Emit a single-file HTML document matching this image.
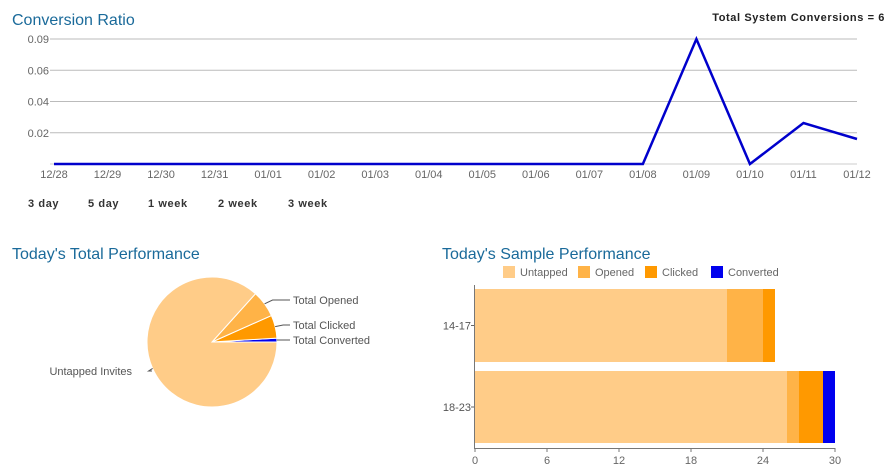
<!DOCTYPE html>
<html><head><meta charset="utf-8"><style>
body{margin:0;background:#fff;width:896px;height:469px;overflow:hidden;font-family:"Liberation Sans",sans-serif}
svg text{font-family:"Liberation Sans",sans-serif}
</style></head><body>
<svg id="s" width="896" height="469" viewBox="0 0 896 469">
<text x="12" y="25" font-size="16" fill="#1a6a9a">Conversion Ratio</text>
<text x="885" y="21" font-size="11" font-weight="bold" fill="#222" text-anchor="end" letter-spacing="0.6">Total System Conversions = 6</text>
<g font-size="11" font-weight="bold" fill="#333" letter-spacing="0.6">
<text x="28" y="207">3 day</text>
<text x="88" y="207">5 day</text>
<text x="148" y="207">1 week</text>
<text x="218" y="207">2 week</text>
<text x="288" y="207">3 week</text>
</g>
<text x="12" y="259" font-size="16" fill="#1a6a9a">Today's Total Performance</text>
<text x="442" y="259" font-size="16" fill="#1a6a9a">Today's Sample Performance</text>
<g id="line"></g>
<g id="pie"></g>
<g id="bar"></g>
</svg>
<script>
const dates=["12/28","12/29","12/30","12/31","01/01","01/02","01/03","01/04","01/05","01/06","01/07","01/08","01/09","01/10","01/11","01/12"];
const ratios=[0,0,0,0,0,0,0,0,0,0,0,0,0.09,0,0.0295,0.018];
const yTickVals=[0.0225,0.045,0.0675,0.09];
const yTickLabels=["0.02","0.04","0.06","0.09"];
const pieLabels=["Untapped Invites","Total Opened","Total Clicked","Total Converted"];
const pieValues=[91,7,6,1];
const barCats=["14-17","18-23"];
const barSeries=["Untapped","Opened","Clicked","Converted"];
const untapped=[21,26];
const opened=[3,1];
const clicked=[1,2];
const converted=[0,1];
const xTicks=[0,6,12,18,24,30];

const NS="http://www.w3.org/2000/svg";
function mk(p,t,a){const e=document.createElementNS(NS,t);for(const k in a)e.setAttribute(k,a[k]);p.appendChild(e);return e;}
// line chart
const L=document.getElementById('line');
const n=dates.length-1;
const lx=i=>54+i*(857-54)/(n);
const ly=v=>164-v/0.09*125;
yTickVals.forEach((v,i)=>{
 const g=mk(L,'line',{x1:50,x2:857,y1:ly(v),y2:ly(v),stroke:'#bbb','stroke-width':1});
 
 
 const t=mk(L,'text',{x:49,y:ly(v)+4,'font-size':11,fill:'#666','text-anchor':'end'});t.textContent=yTickLabels[i];
 
 
});
const base=mk(L,'line',{x1:50,x2:857,y1:164,y2:164,stroke:'#ccc'});


dates.forEach((d,i)=>{const t=mk(L,'text',{x:lx(i),y:178,'font-size':11,fill:'#666','text-anchor':'middle'});t.textContent=d;
 
 });
const pl=mk(L,'polyline',{points:ratios.map((v,i)=>lx(i)+','+ly(v)).join(' '),fill:'none',stroke:'#0000cc','stroke-width':2.5,'stroke-linejoin':'miter'});


// pie
const P=document.getElementById('pie');
const cx=212,cy=342,r=65;
const cols=['#ffcc88','#ffb347','#ff9900','#0000ee'];
const tot=pieValues.reduce((a,b)=>a+b,0);
let a=0;const mids=[];
for(let k=pieValues.length-1;k>=0;k--){
 const sw=pieValues[k]/tot*2*Math.PI;
 const a0=a,a1=a+sw;a=a1;mids[k]=(a0+a1)/2;
 const x0=cx+r*Math.cos(a0),y0=cy-r*Math.sin(a0),x1=cx+r*Math.cos(a1),y1=cy-r*Math.sin(a1);
 const p=mk(P,'path',{d:`M${cx},${cy}L${x0},${y0}A${r},${r} 0 ${sw>Math.PI?1:0} 0 ${x1},${y1}Z`,fill:cols[k],stroke:'#fff','stroke-width':1});
 
 
}
const labY=[375,304,329,344];
pieLabels.forEach((lab,k)=>{
 const m=mids[k];const ex=cx+r*Math.cos(m),ey=cy-r*Math.sin(m);
 const right=Math.cos(m)>0;
 const lx2=right?290:152;
 const ln=mk(P,'polyline',{points:`${ex},${ey} ${right?ex+8:ex-4},${labY[k]-4} ${lx2},${labY[k]-4}`,fill:'none',stroke:'#555'});
 
 
 const t=mk(P,'text',{x:right?293:132,y:labY[k],'font-size':11,fill:'#555','text-anchor':right?'start':'end'});t.textContent=lab;
 
 
});
// bar
const B=document.getElementById('bar');
const bx=v=>475+v*12;
const rows=[[289,362],[371,443]];
const series=[untapped,opened,clicked,converted];
const legX=[503,578,645,711];
barSeries.forEach((s,k)=>{
 const sq=mk(B,'rect',{x:legX[k],y:266,width:12,height:12,fill:cols[k]});
 
 
 const t=mk(B,'text',{x:legX[k]+17,y:276,'font-size':11,fill:'#666'});t.textContent=s;
 
 
});
barCats.forEach((c,i)=>{
 let acc=0;
 series.forEach((sv,k)=>{
  const v=sv[i];if(v<=0)return;
  const r=mk(B,'rect',{x:bx(acc),y:rows[i][0],width:v*12,height:rows[i][1]-rows[i][0],fill:cols[k]});
  
  
  acc+=v;
 });
 const cy2=(rows[i][0]+rows[i][1])/2;
 const t=mk(B,'text',{x:471,y:cy2+4,'font-size':11,fill:'#555','text-anchor':'end'});t.textContent=c;
 
 
 mk(B,'line',{x1:471,x2:475,y1:cy2,y2:cy2,stroke:'#666'});
});
const ya=mk(B,'line',{x1:474.5,x2:474.5,y1:285,y2:449,stroke:'#777'});


const xa=mk(B,'line',{x1:474,x2:835,y1:448.5,y2:448.5,stroke:'#777'});


xTicks.forEach(v=>{
 mk(B,'line',{x1:bx(v),x2:bx(v),y1:448,y2:452,stroke:'#777'});
 const t=mk(B,'text',{x:bx(v),y:464,'font-size':11,fill:'#666','text-anchor':'middle'});t.textContent=v;
 
 
});
</script>
</body></html>
